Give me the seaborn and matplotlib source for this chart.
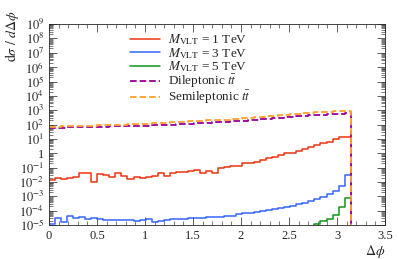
import numpy as np
import pandas as pd
import matplotlib
matplotlib.use("Agg")
import matplotlib.pyplot as plt
import matplotlib.ticker as mticker
import seaborn as sns

# bin contents, 50 bins from 0 to pi
red_1tev = [0.014, 0.018, 0.016, 0.018, 0.023, 0.040, 0.040, 0.010, 0.035, 0.030,
            0.023, 0.045, 0.028, 0.016, 0.023, 0.018, 0.023, 0.028, 0.040, 0.028,
            0.040, 0.047, 0.052, 0.062, 0.068, 0.045, 0.062, 0.040, 0.089, 0.105,
            0.129, 0.129, 0.20, 0.22, 0.26, 0.34, 0.44, 0.58, 0.76, 0.98,
            1.10, 1.5, 1.95, 2.9, 3.7, 4.9, 6.3, 9.3, 12.9, 14.1]
blue_3tev = [1.2e-5, 3.0e-5, 1.7e-5, 4.2e-5, 2.9e-5, 3.4e-5, 2.6e-5, 3.3e-5, 2.5e-5, 2.4e-5,
             2.3e-5, 2.4e-5, 2.2e-5, 2.4e-5, 2.0e-5, 2.4e-5, 2.8e-5, 1.6e-5, 1.9e-5, 2.2e-5,
             2.6e-5, 2.8e-5, 2.8e-5, 3.0e-5, 3.0e-5, 3.0e-5, 3.4e-5, 3.4e-5, 3.8e-5, 4.2e-5,
             4.6e-5, 5.5e-5, 6.6e-5, 6.6e-5, 7.8e-5, 1.0e-4, 1.1e-4, 1.4e-4, 1.6e-4, 1.9e-4,
             2.3e-4, 2.8e-4, 3.5e-4, 5.0e-4, 6.5e-4, 9.5e-4, 1.5e-3, 2.5e-3, 5.0e-3, 3.1e-2]
green_5tev = [1e-9] * 44 + [1.1e-5, 1.9e-5, 2.6e-5, 5.0e-5, 1.9e-4, 7.2e-4]
dilep = [60, 61, 62, 63, 65, 66, 68, 69, 71, 72,
         74, 75, 77, 78, 80, 82, 84, 88, 92, 96,
         101, 106, 111, 117, 123, 129, 136, 143, 150, 158,
         166, 175, 184, 194, 210, 228, 248, 270, 295, 320,
         350, 380, 410, 440, 470, 500, 530, 560, 585, 600]
semilep = [71, 72, 74, 76, 79, 81, 84, 86, 89, 92,
           94, 97, 100, 104, 107, 111, 116, 122, 128, 135,
           142, 149, 157, 165, 174, 183, 193, 203, 214, 225,
           237, 250, 280, 300, 320, 345, 370, 400, 430, 470,
           520, 570, 610, 660, 710, 750, 790, 820, 850, 870]

labels = [r"$M_{\rm VLT}$ = 1 TeV", r"$M_{\rm VLT}$ = 3 TeV", r"$M_{\rm VLT}$ = 5 TeV",
          r"Dileptonic $t\bar{t}$", r"Semileptonic $t\bar{t}$"]
series = [red_1tev, blue_3tev, green_5tev, dilep, semilep]
colors = ["#EE3311", "#3366FF", "#109618", "#990099", "#FFA033"]
styles = ["-", "-", "-", "--", "--"]

edges = np.linspace(0, np.pi, 51)

sns.set_style("ticks")
plt.rcParams["font.family"] = ["Liberation Serif", "DejaVu Serif"]
plt.rcParams["mathtext.fontset"] = "stix"

fig = plt.figure(figsize=(3.99, 2.59), dpi=100)
ax = fig.add_axes([0.123, 0.131, 0.842, 0.776])

for vals, lab, col, ls in zip(series, labels, colors, styles):
    df = pd.DataFrame({"x": edges, "y": list(vals) + [1e-9]})
    sns.lineplot(data=df, x="x", y="y", ax=ax, color=col, label=lab,
                 drawstyle="steps-post", linestyle=ls, sort=False, estimator=None,
                 linewidth=1.1 if ls == "-" else 1.3)

ax.set_yscale("log")
ax.set_xlim(0, 3.5)
ax.set_ylim(1e-5, 1e9)

def fmt(v, pos):
    e = int(round(np.log10(v)))
    return "1" if e == 0 else r"$10^{%d}$" % e

ax.yaxis.set_major_locator(mticker.LogLocator(base=10, numticks=20))
ax.yaxis.set_minor_locator(mticker.LogLocator(base=10, subs=np.arange(2, 10), numticks=20))
ax.yaxis.set_minor_formatter(mticker.NullFormatter())
ax.yaxis.set_major_formatter(mticker.FuncFormatter(fmt))
ax.xaxis.set_major_locator(mticker.MultipleLocator(0.5))
ax.xaxis.set_minor_locator(mticker.MultipleLocator(0.1))
ax.xaxis.set_major_formatter(mticker.FuncFormatter(lambda v, p: "%g" % v))

ax.tick_params(which="both", direction="in", top=True, right=True, labelsize=9, color="#444444")
ax.tick_params(which="major", length=6, width=0.6)
ax.tick_params(which="minor", length=3, width=0.5)
for s in ax.spines.values():
    s.set_linewidth(0.6)

ax.set_xlabel(r"$\Delta\phi$", fontsize=10, loc="right")
ax.xaxis.set_label_coords(1.0, -0.09)
ax.set_ylabel(r"$\mathrm{d}\sigma\ /\ d\Delta\phi$", fontsize=10, loc="top")
ax.yaxis.set_label_coords(-0.085, 1.07)

ax.legend(loc="upper left", bbox_to_anchor=(0.225, 0.985), frameon=False, fontsize=9.5,
          handlelength=2.3, handletextpad=0.55, labelspacing=-0.1, borderaxespad=0)

fig.savefig("out.png", dpi=100)
